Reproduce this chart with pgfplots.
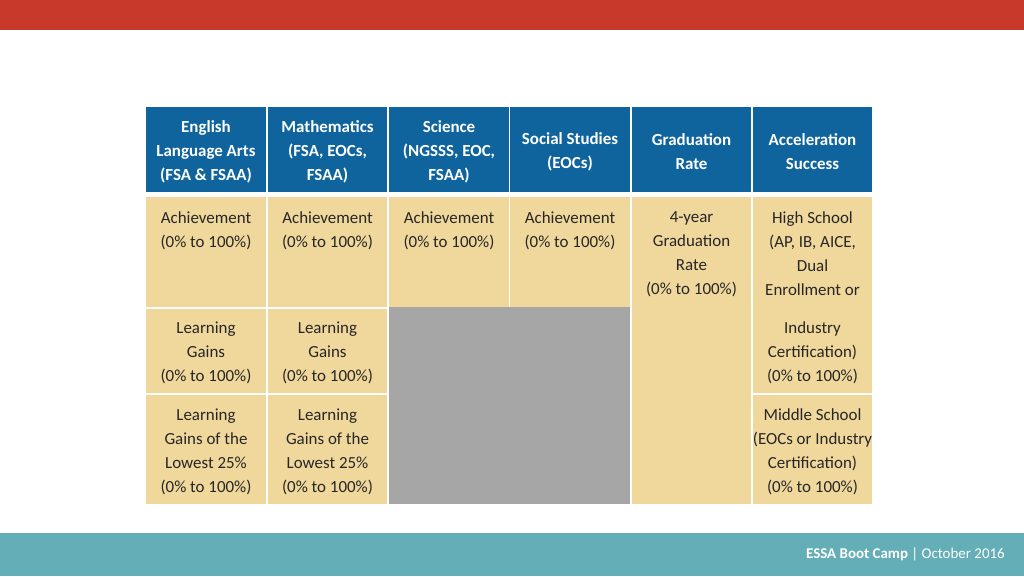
\documentclass[border=0pt]{standalone}
\usepackage{pgfplots}
\pgfplotsset{compat=1.18}
\usepackage{fontspec}
\setmainfont{Carlito}
\definecolor{topred}{RGB}{200,57,43}
\definecolor{footteal}{RGB}{100,175,183}
\definecolor{headblue}{RGB}{16,100,158}
\definecolor{celltan}{RGB}{240,216,156}
\definecolor{cellgray}{RGB}{166,166,166}
\definecolor{celltext}{RGB}{38,38,38}
\tikzset{hd/.style={align=center,inner sep=0pt,text=white,font=\fontsize{12.7}{18}\selectfont\bfseries},
         bd/.style={align=center,inner sep=0pt,text=celltext,font=\fontsize{12.7}{18}\selectfont}}

\begin{document}
\begin{tikzpicture}
\begin{axis}[width=768pt,height=432pt,scale only axis,
  xmin=0,xmax=1024,ymin=0,ymax=576,y dir=reverse,hide axis,clip=false]
% page background and bars
\fill[white] (0,0) rectangle (1024,576);
\fill[topred] (0,0) rectangle (1024,30);
\fill[footteal] (0,533) rectangle (1024,576);
% header row
\fill[headblue] (146,107) rectangle (266,192);
\fill[headblue] (268,107) rectangle (387,192);
\fill[headblue] (389,107) rectangle (509,192);
\fill[headblue] (510,107) rectangle (630,192);
\fill[headblue] (632,107) rectangle (751,192);
\fill[headblue] (753,107) rectangle (872,192);
% body cells
\fill[celltan] (146,197) rectangle (266,307);
\fill[celltan] (268,197) rectangle (387,307);
\fill[celltan] (389,197) rectangle (509,307);
\fill[celltan] (510,197) rectangle (630,307);
\fill[celltan] (146,309) rectangle (266,393);
\fill[celltan] (268,309) rectangle (387,393);
\fill[celltan] (146,395) rectangle (266,504);
\fill[celltan] (268,395) rectangle (387,504);
\fill[cellgray] (389,307) rectangle (630,504);
\fill[celltan] (632,197) rectangle (751,504);
\fill[celltan] (753,197) rectangle (872,393);
\fill[celltan] (753,395) rectangle (872,504);
% header text
\node[hd] at (206,151.5) {English\\Language Arts\\(FSA \& FSAA)};
\node[hd] at (327.5,151.5) {Mathematics\\(FSA, EOCs,\\FSAA)};
\node[hd] at (449,151.5) {Science\\(NGSSS, EOC,\\FSAA)};
\node[hd] at (570,151.5) {Social Studies\\(EOCs)};
\node[hd] at (691.5,151.5) {Graduation\\Rate};
\node[hd] at (812.5,151.5) {Acceleration\\Success};
% row 1
\node[bd,anchor=north] at (206,211) {Achievement\\(0\% to 100\%)};
\node[bd,anchor=north] at (327.5,211) {Achievement\\(0\% to 100\%)};
\node[bd,anchor=north] at (449,211) {Achievement\\(0\% to 100\%)};
\node[bd,anchor=north] at (570,211) {Achievement\\(0\% to 100\%)};
\node[bd,anchor=north] at (691.5,211) {4-year\\Graduation\\Rate\\(0\% to 100\%)};
\node[bd,anchor=north] at (812.5,211) {High School\\(AP, IB, AICE,\\Dual\\Enrollment or};
% row 2
\node[bd] at (206,352.5) {Learning\\Gains\\(0\% to 100\%)};
\node[bd] at (327.5,352.5) {Learning\\Gains\\(0\% to 100\%)};
\node[bd] at (812.5,352.5) {Industry\\Certification)\\(0\% to 100\%)};
% row 3
\node[bd] at (206,451.5) {Learning\\Gains of the\\Lowest 25\%\\(0\% to 100\%)};
\node[bd] at (327.5,451.5) {Learning\\Gains of the\\Lowest 25\%\\(0\% to 100\%)};
\node[bd] at (812.5,451.5) {Middle School\\(EOCs or Industry\\Certification)\\(0\% to 100\%)};
% footer
\node[anchor=base east,inner sep=0pt,text=white,font=\fontsize{11.2}{13}\selectfont]
  at (1005,558) {\textbf{ESSA Boot Camp} | October 2016};
\end{axis}
\end{tikzpicture}
\end{document}
